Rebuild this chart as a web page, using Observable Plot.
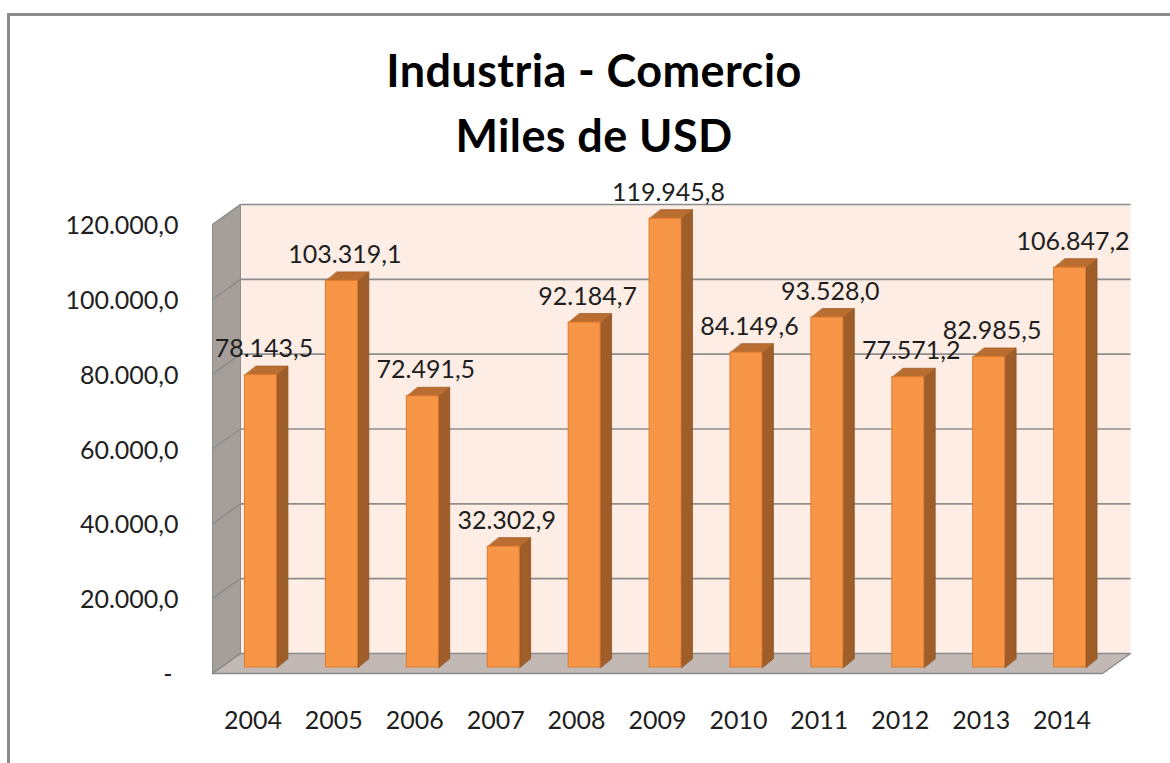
<!DOCTYPE html>
<html>
<head>
<meta charset="utf-8">
<script src="https://cdn.jsdelivr.net/npm/d3@7"></script>
<script src="https://cdn.jsdelivr.net/npm/@observablehq/plot@0.6"></script>
<style>
  html, body { margin: 0; padding: 0; background: #fff; overflow: hidden; width: 1170px; height: 763px; }
  #frame { position: absolute; left: 7px; top: 13px; width: 1250px; height: 850px;
           border-left: 3px solid #8a8a8a; border-top: 3px solid #8a8a8a; box-sizing: border-box; }
  #title { position: absolute; left: 0; top: 38px; width: 1188px; text-align: center;
           font-family: Lato, "Open Sans", sans-serif; font-weight: 700; font-size: 45px;
           letter-spacing: 0.4px; line-height: 65px; color: #000; }
  #chart { position: absolute; left: 0; top: 170px; }
</style>
</head>
<body>
<div id="frame"></div>
<div id="title">Industria - Comercio<br>Miles de USD</div>
<div id="chart"></div>
<script>
// ---- data ----
const years = ["2004", "2005", "2006", "2007", "2008", "2009", "2010", "2011", "2012", "2013", "2014"];
const values = [78143.5, 103319.1, 72491.5, 32302.9, 92184.7, 119945.8, 84149.6, 93528.0, 77571.2, 82985.5, 106847.2];
const yTicks = [0, 20000, 40000, 60000, 80000, 100000, 120000];
const yTickLabels = ["-", "20.000,0", "40.000,0", "60.000,0", "80.000,0", "100.000,0", "120.000,0"];

// ---- formatting ----
const loc = d3.formatLocale({decimal: ",", thousands: ".", grouping: [3], currency: ["", ""]});
const fmt = loc.format(",.1f");

// ---- 3D geometry (in data units) ----
const N = years.length;
const X0 = -0.5, X1 = N - 0.5;
const yMax = yTicks[yTicks.length - 1];
const DX = 0.346, DY = 5345;   // back plane offset
const BX = 0.099, BY = 1604;   // bar front-face plane offset
const HW = 0.197;              // bar half width
const PX = 0.136, PY = 2405;   // bar depth

const rows = years.map((year, i) => ({year, i, v: values[i], x1: i + BX - HW, x2: i + BX + HW, label: fmt(values[i])}));

const sides = rows.flatMap(d => [
  {z: d.year, x: d.x2, y: BY},
  {z: d.year, x: d.x2, y: d.v + BY},
  {z: d.year, x: d.x2 + PX, y: d.v + BY + PY},
  {z: d.year, x: d.x2 + PX, y: BY + PY}
]);
const tops = rows.flatMap(d => [
  {z: d.year, x: d.x1, y: d.v + BY},
  {z: d.year, x: d.x2, y: d.v + BY},
  {z: d.year, x: d.x2 + PX, y: d.v + BY + PY},
  {z: d.year, x: d.x1 + PX, y: d.v + BY + PY}
]);

const leftWall = [{x: X0, y: 0}, {x: X0, y: yMax}, {x: X0 + DX, y: yMax + DY}, {x: X0 + DX, y: DY}];
const backWall = [{x: X0 + DX, y: DY}, {x: X1 + DX, y: DY}, {x: X1 + DX, y: yMax + DY}, {x: X0 + DX, y: yMax + DY}];
const floor = [{x: X0, y: 0}, {x: X0 + DX, y: DY}, {x: X1 + DX, y: DY}, {x: X1, y: 0}];

const ticks = yTicks.map((t, k) => ({t, label: yTickLabels[k]}));

const font = "Lato, 'Open Sans', sans-serif";

const chart = Plot.plot({
  width: 1170,
  height: 593,
  marginLeft: 212,
  marginRight: 68,
  marginTop: 54,
  marginBottom: 90,
  style: {fontFamily: font, overflow: "visible", background: "transparent"},
  x: {type: "linear", domain: [X0, X1], axis: null},
  y: {domain: [0, yMax], axis: null},
  marks: [
    Plot.line(backWall, {x: "x", y: "y", curve: "linear-closed", fill: "#fdede5", stroke: "none"}),
    Plot.line(leftWall, {x: "x", y: "y", curve: "linear-closed", fill: "#a69e99", stroke: "#8c8c8c", strokeWidth: 1}),
    Plot.line(floor, {x: "x", y: "y", curve: "linear-closed", fill: "#c3b9b4", stroke: "#8c8c8c", strokeWidth: 1.5}),
    Plot.link(ticks.filter(d => d.t > 0), {x1: X0 + DX, x2: X1 + DX, y1: d => d.t + DY, y2: d => d.t + DY, stroke: "#8c8c8c", strokeWidth: 1.6}),
    Plot.link(ticks, {x1: X0, x2: X0 + DX, y1: d => d.t, y2: d => d.t + DY, stroke: "#8c8c8c", strokeWidth: 1.4}),
    Plot.line(sides, {x: "x", y: "y", z: "z", curve: "linear-closed", fill: "#9e5d29", stroke: "#8e5122", strokeWidth: 0.8}),
    Plot.line(tops, {x: "x", y: "y", z: "z", curve: "linear-closed", fill: "#b96d30", stroke: "#a35f27", strokeWidth: 0.8}),
    Plot.rect(rows, {x1: "x1", x2: "x2", y1: BY, y2: d => d.v + BY, fill: "#f79646", stroke: "#e07a2e", strokeWidth: 1}),
    Plot.text(rows, {x: d => d.i + BX + 0.037, y: d => d.v + BY, text: "label", dy: -18, lineAnchor: "bottom", textAnchor: "middle", fontSize: 25, fill: "#1e1e1e", fontFamily: font}),
    Plot.text(ticks.filter(d => d.t > 0), {x: X0, y: "t", text: "label", dx: -34, dy: 9.5, lineAnchor: "bottom", textAnchor: "end", fontSize: 25, fill: "#1e1e1e", fontFamily: font}),
    Plot.text(ticks.filter(d => d.t === 0), {x: X0, y: "t", text: "label", dx: -40, dy: 9.5, lineAnchor: "bottom", textAnchor: "end", fontSize: 25, fill: "#1e1e1e", fontFamily: font}),
    Plot.text(rows, {x: "i", y: 0, text: "year", dy: 55, lineAnchor: "bottom", textAnchor: "middle", fontSize: 25, fill: "#1e1e1e", fontFamily: font})
  ]
});
document.getElementById("chart").appendChild(chart);
</script>
</body>
</html>
